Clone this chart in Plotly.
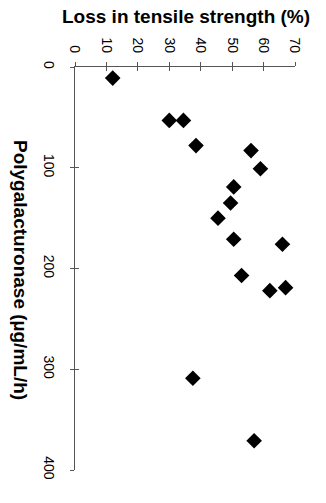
import plotly.graph_objects as go

# Data read from the (rotated) reference chart
pg_activity = [11, 53, 53, 78, 83, 101, 119, 135, 150, 171, 176, 207, 222, 219, 309, 371]  # µg/mL/h
tensile_loss = [12, 30, 34.5, 38.5, 56, 59, 50.5, 49.5, 45.5, 50.5, 66, 53, 62, 67, 37.5, 57]  # %

x_ticks = [0, 10, 20, 30, 40, 50, 60, 70]
y_ticks = [0, 100, 200, 300, 400]

FONT = "Arial, 'Liberation Sans', sans-serif"
AXIS_COLOR = "#555555"

fig = go.Figure()
fig.add_trace(go.Scatter(
    x=tensile_loss, y=pg_activity, mode="markers",
    marker=dict(symbol="diamond", size=12, color="black"),
    showlegend=False, hoverinfo="skip",
))

fig.update_layout(
    width=326, height=503,
    margin=dict(l=75, r=31, t=67, b=33),
    paper_bgcolor="white", plot_bgcolor="white",
    font=dict(family=FONT, color="black"),
    xaxis=dict(
        range=[0, 70], side="top", tickvals=x_ticks, ticktext=[str(v) for v in x_ticks],
        tickangle=90, ticks="outside", ticklen=4, tickcolor=AXIS_COLOR, automargin=False,
        showline=True, linecolor=AXIS_COLOR, linewidth=1, showgrid=False, zeroline=False,
        tickfont=dict(size=14, family=FONT), ticklabelstandoff=4,
    ),
    xaxis2=dict(
        range=[0, 70], overlaying="x", side="top", tickvals=x_ticks, showticklabels=False,
        ticks="inside", ticklen=4, tickcolor=AXIS_COLOR, showline=False, showgrid=False,
        zeroline=False, automargin=False,
    ),
    yaxis=dict(
        range=[400, 0], tickvals=y_ticks, ticktext=[str(v) for v in y_ticks],
        tickangle=90, ticks="outside", ticklen=4, tickcolor=AXIS_COLOR, automargin=False,
        showline=True, linecolor=AXIS_COLOR, linewidth=1, showgrid=False, zeroline=False,
        tickfont=dict(size=14, family=FONT), ticklabelstandoff=9,
    ),
    yaxis2=dict(
        range=[400, 0], overlaying="y", tickvals=y_ticks, showticklabels=False,
        ticks="inside", ticklen=4, tickcolor=AXIS_COLOR, showline=False, showgrid=False,
        zeroline=False, automargin=False,
    ),
    annotations=[
        dict(text="<b>Loss in tensile strength (%)</b>", x=186, y=17, xref="paper", yref="paper",
             showarrow=False, font=dict(size=19, family=FONT)),
        dict(text="<b>Polygalacturonase (µg/mL/h)</b>", x=21, y=270, xref="paper", yref="paper",
             showarrow=False, textangle=90, font=dict(size=19, family=FONT)),
    ],
)

# convert annotation pixel positions to paper coordinates
pw = 326 - 75 - 31
ph = 503 - 67 - 33
for a in fig.layout.annotations:
    px, py = a.x, a.y
    a.x = (px - 75) / pw
    a.y = 1 - (py - 67) / ph
    a.xanchor = "center"
    a.yanchor = "middle"

# dummy trace to activate overlay axes for the crossing tick marks
fig.add_trace(go.Scatter(x=[None], y=[None], xaxis="x2", yaxis="y2", showlegend=False, hoverinfo="skip"))

fig.write_html("out.html", config={"displayModeBar": False},
               post_script="document.body.style.margin='0';")
